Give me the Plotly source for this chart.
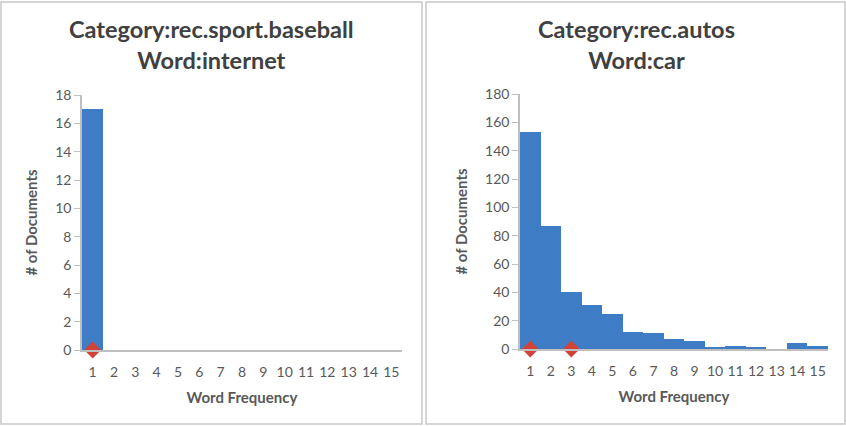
import plotly.graph_objects as go

W, H = 846, 426

freq = list(range(1, 16))
tick_labels = [str(i) for i in freq]
baseball_internet = [17, 0, 0, 0, 0, 0, 0, 0, 0, 0, 0, 0, 0, 0, 0]
autos_car = [153, 87, 40, 31, 25, 12, 11, 7, 6, 1, 2, 1, 0, 4, 2]
left_marks_x = [1]
left_marks_y = [0]
right_marks_x = [1, 3]
right_marks_y = [0, 0]

left_title = "Category:rec.sport.baseball<br>Word:internet"
right_title = "Category:rec.autos<br>Word:car"

BAR = "#3E7DC5"
RED = "#CF4338"
FONT = "Lato, 'Open Sans', sans-serif"
TICKC = "#595959"

def px(x):
    return x / W

def py(y):
    return 1 - y / H

fig = go.Figure()
fig.add_trace(go.Bar(x=freq, y=baseball_internet, marker=dict(color=BAR, line=dict(width=0)),
                     xaxis="x", yaxis="y", showlegend=False))
fig.add_trace(go.Scatter(x=left_marks_x, y=left_marks_y, mode="markers",
                         marker=dict(symbol="diamond", size=13, color=RED),
                         xaxis="x", yaxis="y", cliponaxis=False, showlegend=False))
fig.add_trace(go.Bar(x=freq, y=autos_car, marker=dict(color=BAR, line=dict(width=0)),
                     xaxis="x2", yaxis="y2", showlegend=False))
fig.add_trace(go.Scatter(x=right_marks_x, y=right_marks_y, mode="markers",
                         marker=dict(symbol="diamond", size=13, color=RED),
                         xaxis="x2", yaxis="y2", cliponaxis=False, showlegend=False))

xcommon = dict(range=[0.5, 15.5], tickmode="array", tickvals=freq, ticktext=tick_labels,
               showgrid=False, zeroline=False, showline=True, linecolor="#BFBFBF", linewidth=1.5,
               ticks="outside", ticklen=8, tickcolor="rgba(0,0,0,0)", automargin=False,
               tickfont=dict(family=FONT, size=14, color=TICKC),
               title=dict(text="<b>Word Frequency</b>", font=dict(family=FONT, size=15, color=TICKC), standoff=14))
ycommon = dict(showgrid=False, zeroline=False, showline=True, linecolor="#BFBFBF", linewidth=1.5,
               ticks="outside", ticklen=6, tickcolor="#BFBFBF", automargin=False,
               tickfont=dict(family=FONT, size=14, color=TICKC),
               title=dict(text="<b># of Documents</b>", font=dict(family=FONT, size=15, color=TICKC), standoff=14))

fig.update_layout(
    width=W, height=H,
    margin=dict(l=0, r=0, t=0, b=0, autoexpand=False),
    paper_bgcolor="white", plot_bgcolor="white",
    bargap=0,
    xaxis=dict(domain=[px(82), px(402)], anchor="y", **xcommon),
    yaxis=dict(domain=[py(350), py(95)], anchor="x", range=[0, 18], dtick=2, **ycommon),
    xaxis2=dict(domain=[px(520), px(828)], anchor="y2", **xcommon),
    yaxis2=dict(domain=[py(349), py(94)], anchor="x2", range=[0, 180], dtick=20, **ycommon),
    annotations=[
        dict(text="<b>" + left_title + "</b>", x=px(212), y=py(44), xref="paper", yref="paper",
             showarrow=False, font=dict(family=FONT, size=23.5, color="#404040"), xanchor="center", yanchor="middle"),
        dict(text="<b>" + right_title + "</b>", x=px(636), y=py(44), xref="paper", yref="paper",
             showarrow=False, font=dict(family=FONT, size=23.5, color="#404040"), xanchor="center", yanchor="middle"),
    ],
    shapes=[
        dict(type="rect", xref="paper", yref="paper", x0=px(1), x1=px(422), y0=py(424), y1=py(2),
             line=dict(color="#C8C8C8", width=1.5), fillcolor="rgba(0,0,0,0)"),
        dict(type="rect", xref="paper", yref="paper", x0=px(426), x1=px(845), y0=py(424), y1=py(2),
             line=dict(color="#C8C8C8", width=1.5), fillcolor="rgba(0,0,0,0)"),
    ],
)

fig.write_html("out.html")
